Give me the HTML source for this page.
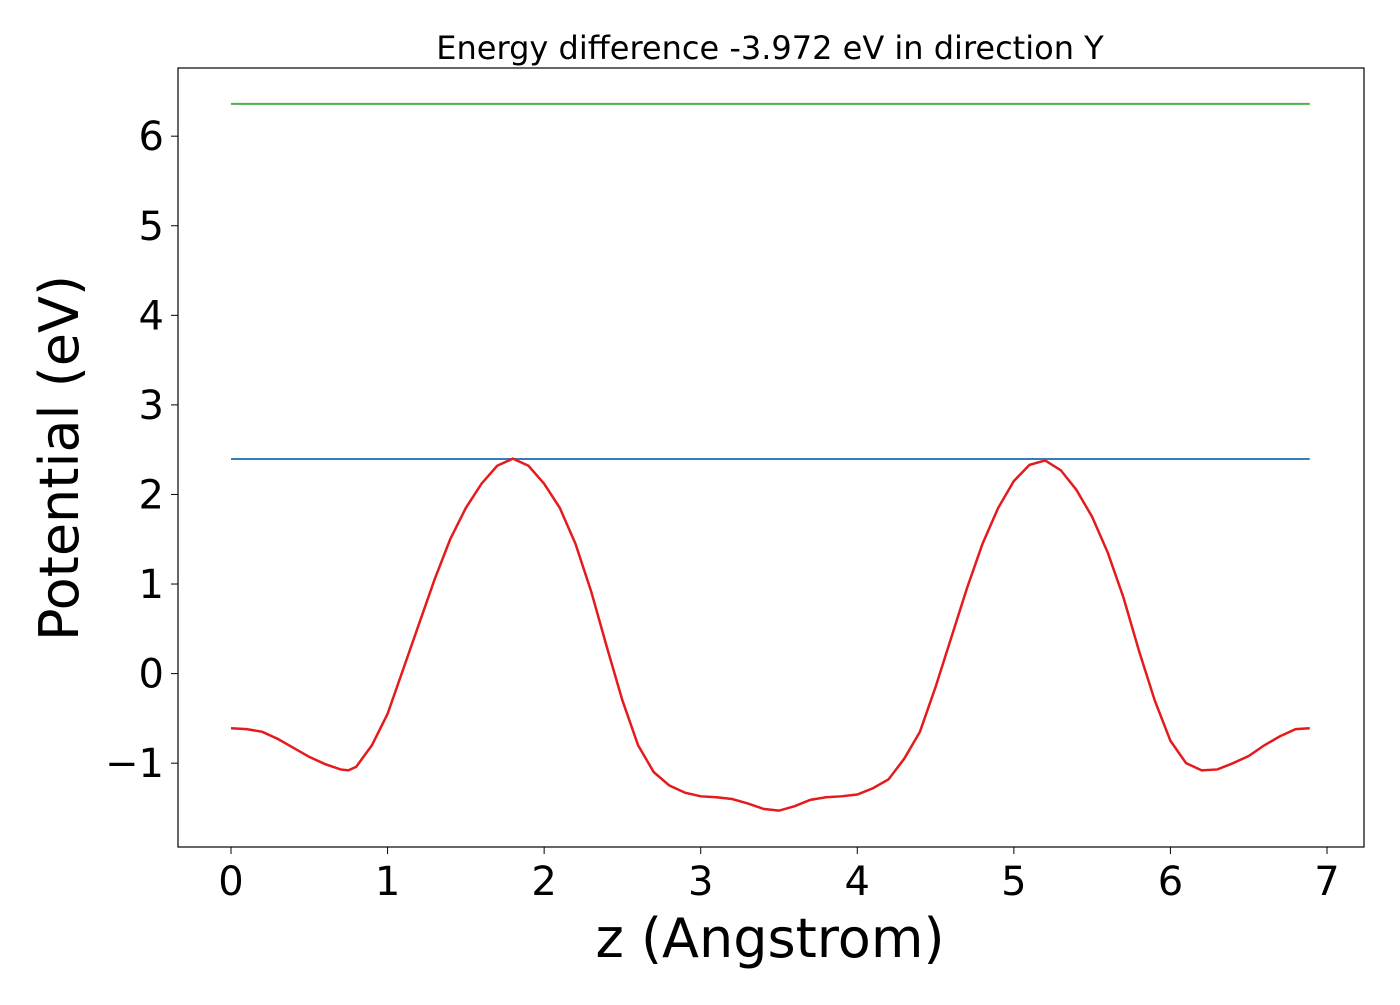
<!DOCTYPE html>
<html><head><meta charset="utf-8"><style>
body{margin:0;background:#fff}
svg text{font-family:"DejaVu Sans","Liberation Sans",sans-serif;fill:#000}
</style></head><body>
<svg width="1400" height="1000" xmlns="http://www.w3.org/2000/svg">
<text x="770" y="59" font-size="32" text-anchor="middle">Energy difference -3.972 eV in direction Y</text>
<g id="plot"></g>
<rect x="178" y="68" width="1186" height="779" fill="none" stroke="#000" stroke-width="1.2"/>
<g id="xt"></g>
<g id="yt"></g>
<text x="770" y="957" font-size="54" text-anchor="middle">z (Angstrom)</text>
<text transform="translate(78,458) rotate(-90)" font-size="54" text-anchor="middle">Potential (eV)</text>
</svg>
<script>
const zValues=[0,0.1,0.2,0.3,0.4,0.5,0.6,0.7,0.75,0.8,0.9,1.0,1.1,1.2,1.3,1.4,1.5,1.6,1.7,1.8,1.9,2.0,2.1,2.2,2.3,2.4,2.5,2.6,2.7,2.8,2.9,3.0,3.1,3.2,3.3,3.4,3.5,3.6,3.7,3.8,3.9,4.0,4.1,4.2,4.3,4.4,4.5,4.6,4.7,4.8,4.9,5.0,5.1,5.2,5.3,5.4,5.5,5.6,5.7,5.8,5.9,6.0,6.1,6.2,6.3,6.4,6.5,6.6,6.7,6.8,6.89];
const potential=[-0.61,-0.62,-0.65,-0.73,-0.83,-0.93,-1.01,-1.07,-1.08,-1.04,-0.8,-0.45,0.05,0.55,1.05,1.5,1.85,2.12,2.32,2.4,2.32,2.12,1.85,1.45,0.92,0.3,-0.3,-0.8,-1.1,-1.25,-1.33,-1.37,-1.38,-1.4,-1.45,-1.51,-1.53,-1.48,-1.41,-1.38,-1.37,-1.35,-1.28,-1.18,-0.95,-0.65,-0.15,0.4,0.95,1.45,1.85,2.15,2.33,2.38,2.27,2.05,1.75,1.35,0.85,0.25,-0.3,-0.75,-1.0,-1.08,-1.07,-1.0,-0.92,-0.8,-0.7,-0.62,-0.61];
const vacuumLevel=[6.36];
const maxLevel=[2.396];
const xTicks=[0,1,2,3,4,5,6,7];
const yTicks=[-1,0,1,2,3,4,5,6];
const sx=v=>231+v*156.57;
const sy=v=>673.6-v*89.57;
const NS="http://www.w3.org/2000/svg";
const plot=document.getElementById('plot');
function hline(v,color,name){
  const l=document.createElementNS(NS,'line');
  l.setAttribute('x1',sx(zValues[0]));l.setAttribute('x2',sx(zValues[zValues.length-1]));
  l.setAttribute('y1',sy(v));l.setAttribute('y2',sy(v));
  l.setAttribute('stroke',color);l.setAttribute('stroke-width','2');
  
  
  plot.appendChild(l);
}
hline(vacuumLevel[0],'#4daf4a','vacuum-level-line');
hline(maxLevel[0],'#377eb8','max-potential-line');
const p=document.createElementNS(NS,'polyline');
p.setAttribute('points',zValues.map((z,i)=>sx(z)+','+sy(potential[i])).join(' '));
p.setAttribute('fill','none');p.setAttribute('stroke','#e41a1c');p.setAttribute('stroke-width','2.5');


plot.appendChild(p);
const xt=document.getElementById('xt');
xTicks.forEach(t=>{
  const l=document.createElementNS(NS,'line');
  l.setAttribute('x1',sx(t));l.setAttribute('x2',sx(t));l.setAttribute('y1',847);l.setAttribute('y2',854);l.setAttribute('stroke','#000');
  
  
  xt.appendChild(l);
  const tx=document.createElementNS(NS,'text');
  tx.setAttribute('x',sx(t));tx.setAttribute('y',895);tx.setAttribute('font-size','40');tx.setAttribute('text-anchor','middle');
  tx.textContent=t;
  
  
  xt.appendChild(tx);
});
const yt=document.getElementById('yt');
yTicks.forEach(t=>{
  const l=document.createElementNS(NS,'line');
  l.setAttribute('x1',171);l.setAttribute('x2',178);l.setAttribute('y1',sy(t));l.setAttribute('y2',sy(t));l.setAttribute('stroke','#000');
  
  
  yt.appendChild(l);
  const tx=document.createElementNS(NS,'text');
  tx.setAttribute('x',164);tx.setAttribute('y',sy(t)+14);tx.setAttribute('font-size','40');tx.setAttribute('text-anchor','end');
  tx.textContent=t<0?'\u2212'+Math.abs(t):t;
  
  
  yt.appendChild(tx);
});
</script>
</body></html>
